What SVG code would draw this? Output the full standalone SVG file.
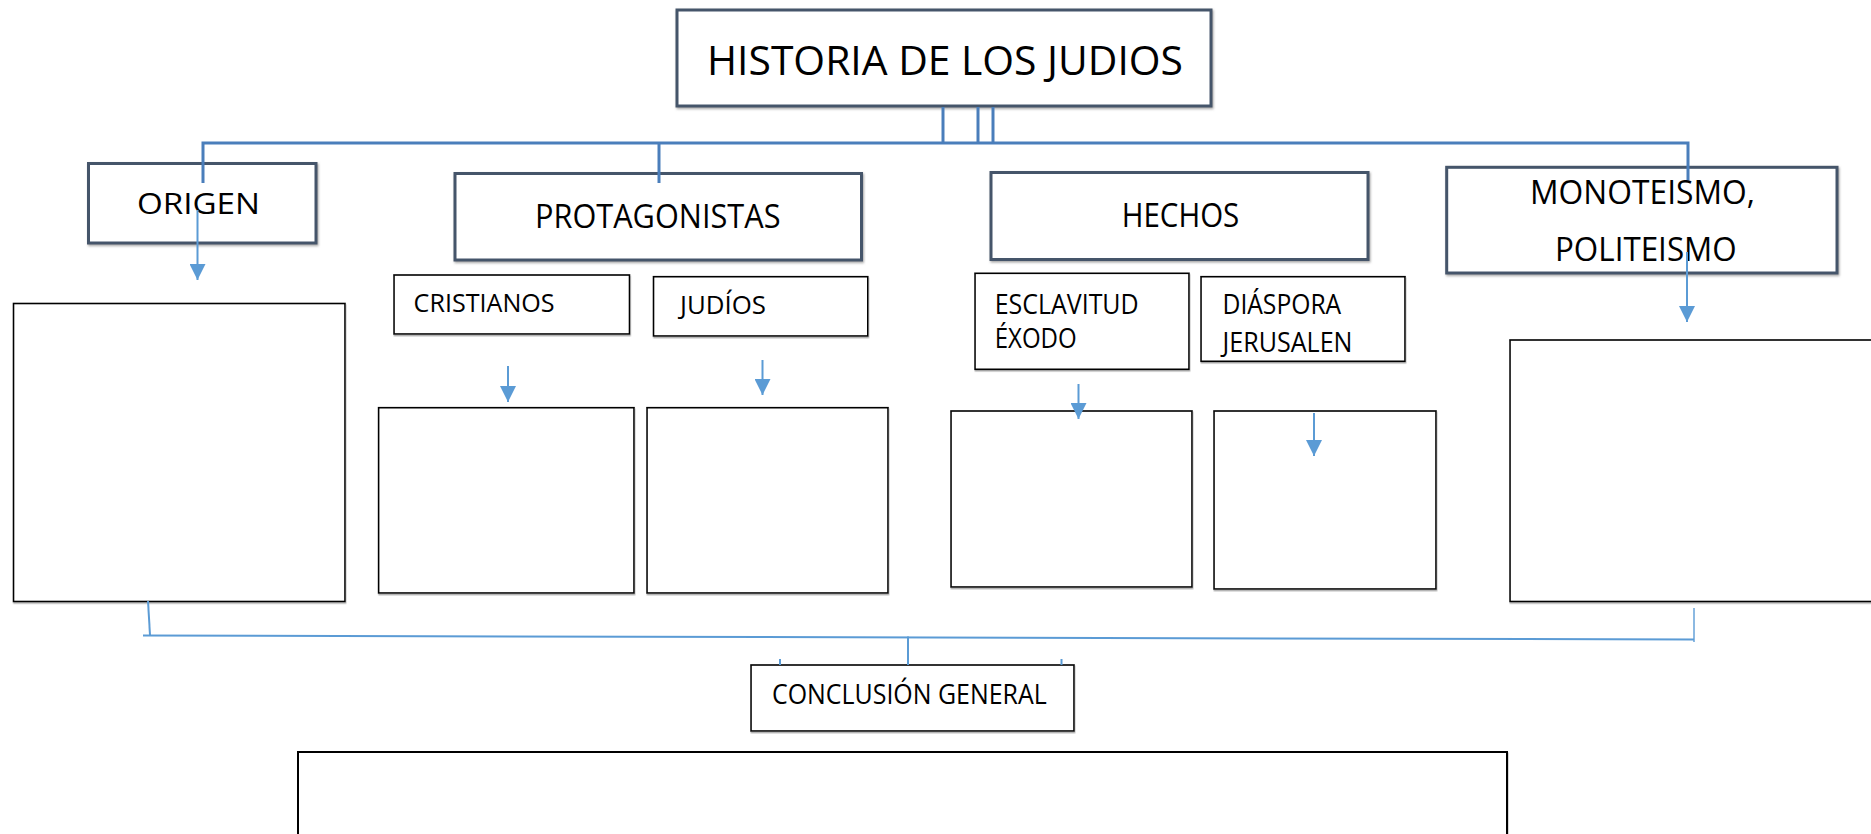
<svg xmlns="http://www.w3.org/2000/svg" width="1871" height="834" viewBox="0 0 1871 834">
<defs>
<filter id="hsh" x="-5%" y="-10%" width="110%" height="120%">
<feDropShadow dx="1" dy="1.5" stdDeviation="1.3" flood-color="#7f7f7f" flood-opacity="0.7"/>
</filter>
<filter id="bsh" x="-5%" y="-5%" width="110%" height="110%">
<feDropShadow dx="0.5" dy="1.5" stdDeviation="0.6" flood-color="#8a8a8a" flood-opacity="0.7"/>
</filter>
<marker id="ah" markerUnits="userSpaceOnUse" markerWidth="16" markerHeight="16" refX="16" refY="8" orient="auto">
<path d="M0,0 L16,8 L0,16 Z" fill="#5b9bd5"/>
</marker>
</defs>
<style>
.hdr{fill:#fff;stroke:#44546a;stroke-width:3;filter:url(#hsh)}
.box{fill:#fff;stroke:#000;stroke-width:1.6;filter:url(#bsh)}
.t{font-family:"Open Sans","Liberation Sans",sans-serif;fill:#000}
.conn{stroke:#4a7ebb;stroke-width:3;fill:none}
.arr{stroke:#5b9bd5;stroke-width:2;fill:none;marker-end:url(#ah)}
.bl{stroke:#5b9bd5;stroke-width:2;fill:none}
</style>
<rect width="1871" height="834" fill="#fff"/>

<g id="titulo">
<rect class="hdr" x="677" y="10" width="534" height="96"/>
<text class="t" x="707" y="75" font-size="41" textLength="476" lengthAdjust="spacingAndGlyphs">HISTORIA DE LOS JUDIOS</text>
</g>

<g id="origen">
<rect class="hdr" x="88.5" y="163.5" width="227.5" height="79.5"/>
<text class="t" x="137" y="214" font-size="30" textLength="123" lengthAdjust="spacingAndGlyphs">ORIGEN</text>
</g>
<g id="origen-caja">
<rect class="box" x="13.5" y="303.5" width="331.5" height="298"/>
</g>

<g id="protagonistas">
<rect class="hdr" x="455" y="173.5" width="406.5" height="86.5"/>
<text class="t" x="535" y="227.5" font-size="32" textLength="245.5" lengthAdjust="spacingAndGlyphs">PROTAGONISTAS</text>
</g>
<g id="cristianos">
<rect class="box" x="394" y="275" width="235.5" height="59"/>
<text class="t" x="413.6" y="312" font-size="25.5" textLength="141" lengthAdjust="spacingAndGlyphs">CRISTIANOS</text>
</g>
<g id="judios">
<rect class="box" x="653.5" y="276.7" width="214.3" height="59.3"/>
<text class="t" x="680" y="313.5" font-size="25.5" textLength="86" lengthAdjust="spacingAndGlyphs">JUDÍOS</text>
</g>
<g id="cristianos-caja">
<rect class="box" x="378.6" y="407.7" width="255.4" height="185.3"/>
</g>
<g id="judios-caja">
<rect class="box" x="647" y="407.7" width="241" height="185.3"/>
</g>

<g id="hechos">
<rect class="hdr" x="991" y="172.5" width="377" height="87"/>
<text class="t" x="1121.7" y="227" font-size="33" textLength="117.6" lengthAdjust="spacingAndGlyphs">HECHOS</text>
</g>
<g id="esclavitud">
<rect class="box" x="975" y="273.3" width="214" height="96"/>
<text class="t" x="994.7" y="313.5" font-size="26.5" textLength="144" lengthAdjust="spacingAndGlyphs">ESCLAVITUD</text>
<text class="t" x="994.7" y="347.5" font-size="26.5" textLength="82" lengthAdjust="spacingAndGlyphs">ÉXODO</text>
</g>
<g id="diaspora">
<rect class="box" x="1201" y="276.7" width="204" height="84.6"/>
<text class="t" x="1222.5" y="313.5" font-size="26.5" textLength="118.7" lengthAdjust="spacingAndGlyphs">DIÁSPORA</text>
<text class="t" x="1222.5" y="352" font-size="26.5" textLength="130" lengthAdjust="spacingAndGlyphs">JERUSALEN</text>
</g>
<g id="esclavitud-caja">
<rect class="box" x="951" y="411" width="241" height="176"/>
</g>
<g id="diaspora-caja">
<rect class="box" x="1214" y="411" width="222" height="178"/>
</g>

<g id="monoteismo">
<rect class="hdr" x="1446.7" y="167.3" width="390.3" height="105.7"/>
<text class="t" x="1530" y="203.5" font-size="33" textLength="225" lengthAdjust="spacingAndGlyphs">MONOTEISMO,</text>
<text class="t" x="1555" y="261" font-size="33" textLength="181.7" lengthAdjust="spacingAndGlyphs">POLITEISMO</text>
</g>
<g id="monoteismo-caja">
<rect class="box" x="1510" y="340" width="380" height="261.5"/>
</g>

<g id="conclusion">
<rect class="box" x="751" y="665" width="323" height="66"/>
<text class="t" x="772" y="704" font-size="26.5" textLength="274.7" lengthAdjust="spacingAndGlyphs">CONCLUSIÓN GENERAL</text>
</g>
<g id="conclusion-caja">
<rect class="box" x="298" y="752" width="1209" height="120" style="stroke-width:2"/>
</g>

<g id="connectors">
<line class="conn" x1="943" y1="107" x2="943" y2="143"/>
<line class="conn" x1="978" y1="107" x2="978" y2="143"/>
<line class="conn" x1="993" y1="107" x2="993" y2="143"/>
<polyline class="conn" points="203,183 203,143 1688,143 1688,180"/>
<line class="conn" x1="659" y1="143" x2="659" y2="183"/>
<line class="arr" x1="197.5" y1="210" x2="197.5" y2="280"/>
<line class="arr" x1="1687" y1="252" x2="1687" y2="322"/>
<line class="arr" x1="508" y1="366" x2="508" y2="402"/>
<line class="arr" x1="762.5" y1="360" x2="762.5" y2="395"/>
<line class="arr" x1="1078.5" y1="384" x2="1078.5" y2="419"/>
<line class="arr" x1="1314" y1="413" x2="1314" y2="456"/>
<line class="bl" x1="148" y1="601" x2="150" y2="635"/>
<line class="bl" x1="143" y1="635.5" x2="1694" y2="639.5"/>
<line class="bl" x1="1694" y1="608" x2="1694" y2="642" stroke-width="1.2" opacity="0.7"/>
<line class="bl" x1="908" y1="636.5" x2="908" y2="665"/>
<line class="bl" x1="780" y1="659" x2="780" y2="665"/>
<line class="bl" x1="1061.5" y1="659" x2="1061.5" y2="665"/>
</g>
</svg>
